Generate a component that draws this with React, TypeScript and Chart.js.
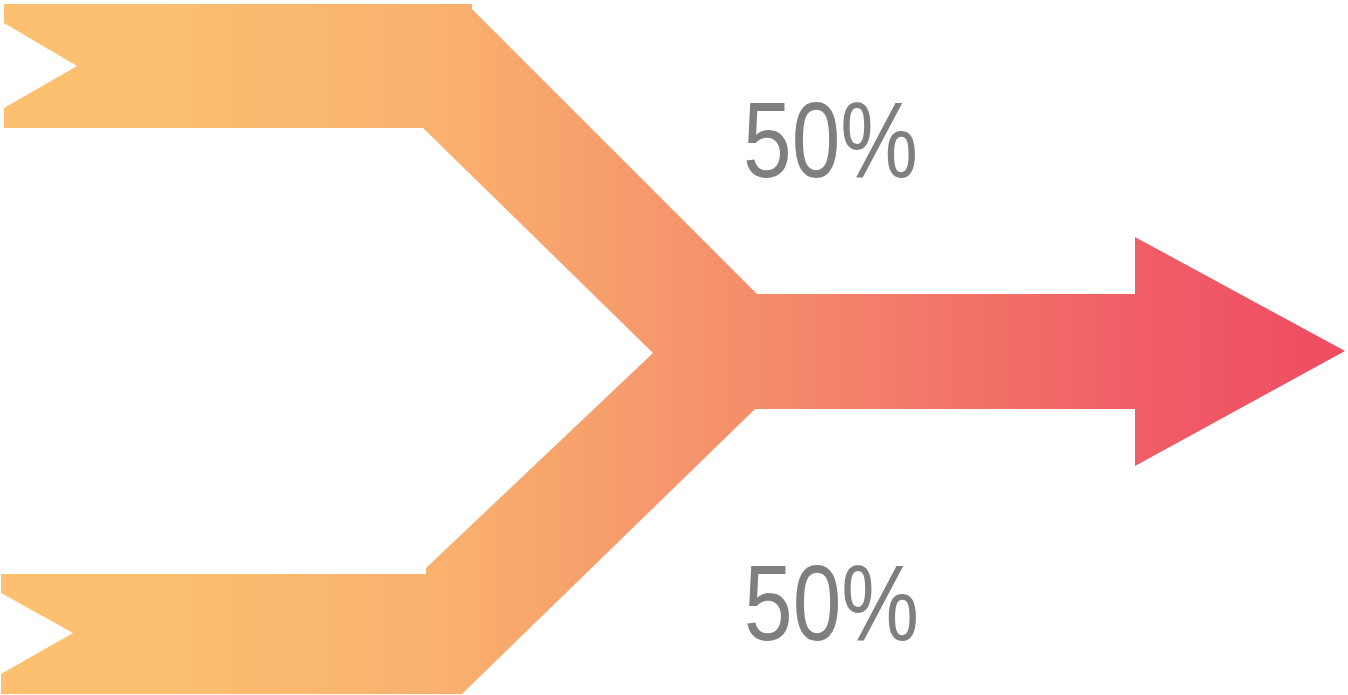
import React, { useEffect, useRef } from "react";
import { Chart, registerables } from "chart.js";

Chart.register(...registerables);

const W = 1348;
const H = 695;

// Outline of the merge arrow (x, y in picture units, y downward)
const shapeX = [4, 472, 472, 757, 1135, 1135, 1345, 1135, 1135, 755, 462, 1, 1, 73, 1, 1, 426, 426, 653, 423, 4, 4, 77, 4, 4];
const shapeY = [4, 4, 9, 294, 294, 237, 351, 466, 409, 409, 694, 694, 674, 633, 593, 574, 574, 568, 353, 128, 128, 108, 66, 23, 4];

// Gradient stops along x
const gradX = [150, 450, 760, 1135, 1345];
const gradColors = ["#FCC070", "#F9B06E", "#F48C6B", "#F05E66", "#EE4C62"];

// Percentage labels
const labelTexts = ["50%", "50%"];
const labelX = [743, 744];
const labelY = [177, 640];

const labelPlugin = {
  id: "pctLabels",
  afterDatasetsDraw(chart: any) {
    const { ctx, scales } = chart;
    ctx.save();
    ctx.fillStyle = "#7f7f7f";
    ctx.font = "108px 'Liberation Sans', Arial, sans-serif";
    ctx.textBaseline = "alphabetic";
    ctx.textAlign = "left";
    labelTexts.forEach((t, i) => {
      const px = scales.x.getPixelForValue(labelX[i]);
      const py = scales.y.getPixelForValue(labelY[i]);
      ctx.save();
      ctx.translate(px, py);
      ctx.scale(0.81, 1);
      ctx.fillText(t, 0, 0);
      ctx.restore();
    });
    ctx.restore();
  },
};

export default function App() {
  const ref = useRef<HTMLCanvasElement>(null);
  useEffect(() => {
    if (!ref.current) return;
    const points = shapeX.map((x, i) => ({ x, y: shapeY[i] }));
    const chart = new Chart(ref.current, {
      type: "scatter",
      data: {
        datasets: [
          {
            data: points,
            showLine: true,
            fill: "shape",
            tension: 0,
            borderWidth: 0,
            borderColor: "rgba(0,0,0,0)",
            pointRadius: 0,
            pointHoverRadius: 0,
            backgroundColor: (context: any) => {
              const c = context.chart;
              const xs = c.scales && c.scales.x;
              if (!xs || !c.chartArea) return gradColors[0];
              const x0 = xs.getPixelForValue(gradX[0]);
              const x1 = xs.getPixelForValue(gradX[gradX.length - 1]);
              const g = c.ctx.createLinearGradient(x0, 0, x1, 0);
              gradX.forEach((gx, i) => {
                g.addColorStop((gx - gradX[0]) / (gradX[gradX.length - 1] - gradX[0]), gradColors[i]);
              });
              return g;
            },
          } as any,
        ],
      },
      options: {
        responsive: false,
        animation: false,
        layout: { padding: 0 },
        plugins: { legend: { display: false }, tooltip: { enabled: false } },
        events: [],
        scales: {
          x: { type: "linear", min: 0, max: W, display: false },
          y: { type: "linear", min: 0, max: H, reverse: true, display: false },
        },
      },
      plugins: [labelPlugin],
    });
    return () => chart.destroy();
  }, []);
  return (
    <canvas
      ref={ref}
      width={W}
      height={H}
      style={{ position: "fixed", left: 0, top: 0, width: W, height: H, background: "#fff" }}
    />
  );
}
